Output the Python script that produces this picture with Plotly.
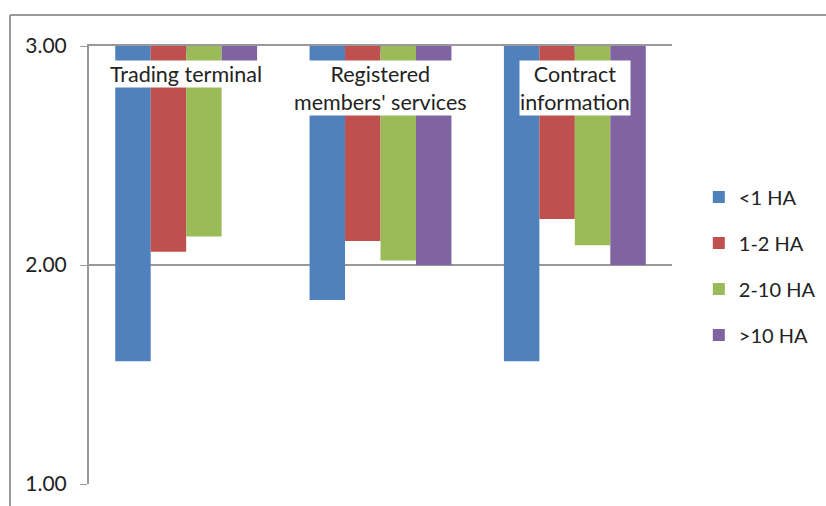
import plotly.graph_objects as go

categories = ["Trading terminal", "Registered<br>members' services", "Contract<br>information"]
series_names = ["<1 HA", "1-2 HA", "2-10 HA", ">10 HA"]
lt1 = [1.56, 1.84, 1.56]
ha1_2 = [2.06, 2.11, 2.21]
ha2_10 = [2.13, 2.02, 2.09]
gt10 = [2.87, 2.00, 2.00]
series_values = [lt1, ha1_2, ha2_10, gt10]
colors = ["#4F81BD", "#C0504D", "#9BBB59", "#8064A2"]
y_ticks = [1, 2, 3]
base_value = 3.0

fig = go.Figure()
for name, vals, col in zip(series_names, series_values, colors):
    fig.add_trace(go.Bar(
        x=list(range(len(categories))),
        y=[v - base_value for v in vals],
        base=base_value,
        name=name,
        legendgroup=name,
        marker=dict(color=col, line=dict(width=0)),
        customdata=vals,
        hovertemplate="%{customdata:.2f}<extra>" + name + "</extra>",
    ))

font_family = "Lato, 'Open Sans', sans-serif"

for i, cat in enumerate(categories):
    fig.add_annotation(
        x=i, y=2.937, xref="x", yref="y", yanchor="top",
        text=cat, showarrow=False,
        font=dict(family=font_family, size=21.5, color="#222"),
        bgcolor="white", borderpad=0,
    )

fig.update_layout(
    width=826, height=506,
    margin=dict(l=89, r=154, t=46, b=22, autoexpand=False),
    paper_bgcolor="white", plot_bgcolor="white",
    barmode="group", bargap=0.27, bargroupgap=0,
    font=dict(family=font_family, size=21, color="#222"),
    showlegend=True,
    legend=dict(
        x=1.046, y=0.70, xanchor="left", yanchor="top",
        font=dict(size=20, color="#222"),
        traceorder="grouped", tracegroupgap=17,
        bgcolor="rgba(0,0,0,0)",
    ),
    xaxis=dict(
        side="top", range=[-0.5, 2.5], tickmode="array",
        tickvals=[0, 1, 2], ticktext=["", "", ""],
        showticklabels=False, tickson="boundaries",
        ticks="inside", ticklen=6, tickcolor="#999",
        showline=True, linecolor="#999", linewidth=2,
        showgrid=False, zeroline=False,
    ),
    yaxis=dict(
        range=[1, 3], tickmode="array", tickvals=y_ticks,
        tickformat=".2f", ticks="outside", ticklen=7, tickcolor="#999",
        ticklabelstandoff=9,
        showline=True, linecolor="#999", linewidth=2,
        showgrid=True, gridcolor="#999", gridwidth=2,
        zeroline=False, tickfont=dict(size=21, color="#222"),
    ),
)

# chart-area border (top and left edges visible)
bx = (10 - 89) / 583
by = (484 - 15) / 438
fig.add_shape(type="line", xref="paper", yref="paper", x0=bx, x1=bx, y0=-0.2, y1=by,
              line=dict(color="#999", width=2))
fig.add_shape(type="line", xref="paper", yref="paper", x0=bx, x1=1.4, y0=by, y1=by,
              line=dict(color="#999", width=2))

fig.write_html("out.html")
